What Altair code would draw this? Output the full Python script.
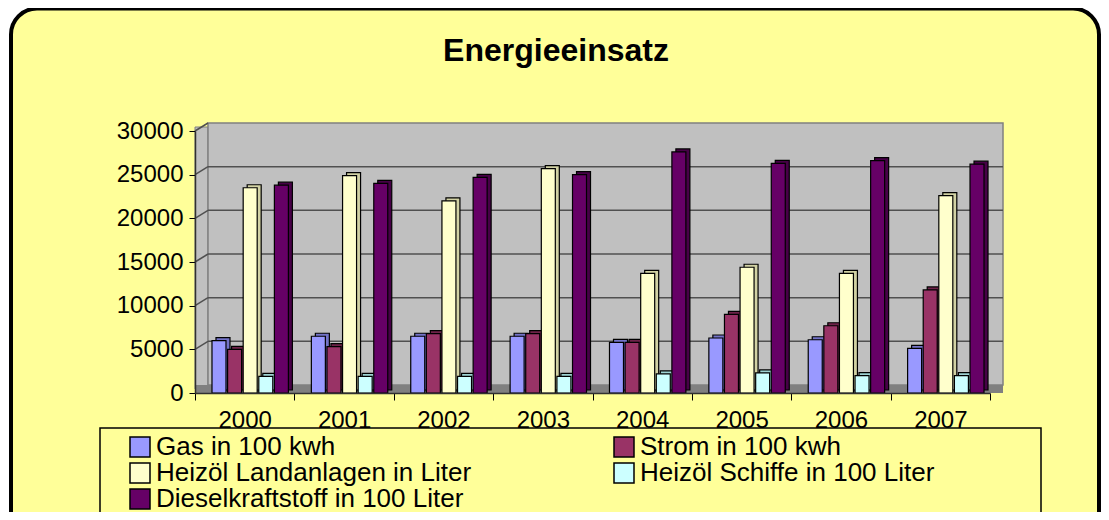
import altair as alt
import pandas as pd

YEARS = ["2000", "2001", "2002", "2003", "2004", "2005", "2006", "2007"]
SERIES = [
    "Gas in 100 kwh",
    "Strom in 100 kwh",
    "Heizöl Landanlagen in Liter",
    "Heizöl Schiffe in 100 Liter",
    "Dieselkraftstoff in 100 Liter",
]
GAS = [6000, 6500, 6500, 6500, 5800, 6300, 6100, 5100]
STROM = [5000, 5300, 6800, 6800, 5800, 9000, 7700, 11800]
HEIZOEL_LAND = [23500, 24900, 22000, 25700, 13700, 14400, 13700, 22600]
HEIZOEL_SCHIFFE = [1900, 1900, 1900, 1900, 2200, 2300, 2000, 2000]
DIESEL = [23800, 24000, 24700, 25000, 27600, 26300, 26600, 26200]
Y_TICKS = [0, 5000, 10000, 15000, 20000, 25000, 30000]
TITLE = "Energieeinsatz"

COLORS = ["#9999FF", "#993366", "#FFFFCC", "#CCFFFF", "#660066"]
COLORS_DARK = ["#7373C8", "#6E2249", "#D2D2A4", "#9ED2D2", "#470047"]

values = [GAS, STROM, HEIZOEL_LAND, HEIZOEL_SCHIFFE, DIESEL]
rows = []
for s, vals in zip(SERIES, values):
    for y, v in zip(YEARS, vals):
        rows.append({"Jahr": y, "Reihe": s, "Wert": v})
df = pd.DataFrame(rows)
ticks_df = pd.DataFrame({"t": Y_TICKS})
one = pd.DataFrame({"a": [0]})

W, H = 795, 262
FONT = "Liberation Sans"
BAR_W = 14
STEP = 15.6
FIRST = -25.7

yscale = alt.Scale(domain=[0, 30000], nice=False, zero=True)
xscale = alt.Scale(domain=YEARS, paddingInner=0, paddingOuter=0)

x_axis = alt.Axis(labelAngle=0, labelFontSize=24, labelFont=FONT, labelColor="black",
                  tickBand="extent", tickSize=7, tickColor="black", tickWidth=1,
                  domainColor="#303030", domainWidth=1.5, labelPadding=8, zindex=1)
y_axis = alt.Axis(values=Y_TICKS, labelFontSize=24, labelFont=FONT, labelColor="black",
                  tickSize=6, tickColor="black", tickWidth=1, domainColor="#303030",
                  domainWidth=1.5, labelPadding=6, grid=False, format="d", zindex=1)
legend = alt.Legend(orient="none", legendX=-68, legendY=303, title=None,
                    direction="horizontal", columns=2, columnPadding=139, rowPadding=0,
                    labelFontSize=26, labelFont=FONT, labelColor="black",
                    labelLimit=700, labelOffset=3, symbolType="square",
                    symbolSize=400, symbolStrokeColor="black",
                    symbolStrokeWidth=1.5, symbolOpacity=1, padding=0, zindex=1)

# decorations
outer = alt.Chart(one).mark_rect(
    fill="#FFFF99", stroke="black", strokeWidth=4, cornerRadius=26
).encode(x=alt.value(-184), x2=alt.value(904), y=alt.value(-122.5), y2=alt.value(420))

legend_box = alt.Chart(one).mark_rect(fill="#FFFF99", stroke="black", strokeWidth=1.5).encode(
    x=alt.value(-95), x2=alt.value(846), y=alt.value(297), y2=alt.value(420)
)

side_wall = alt.Chart(one).mark_rect(fill="#C0C0C0", stroke="#808080", strokeWidth=1).encode(
    x=alt.value(0), x2=alt.value(13), y=alt.value(-4), y2=alt.value(258)
)
back_wall = alt.Chart(one).mark_rect(fill="#C0C0C0", stroke="#808080", strokeWidth=1.5).encode(
    x=alt.value(13), x2=alt.value(808), y=alt.value(-8), y2=alt.value(254)
)
floor = alt.Chart(one).mark_rect(fill="#808080").encode(
    x=alt.value(0), x2=alt.value(808), y=alt.value(254), y2=alt.value(262)
)

grid = alt.Chart(ticks_df).transform_filter("datum.t > 0 && datum.t < 30000").mark_rule(
    color="#505050", strokeWidth=1.5, yOffset=-8
).encode(
    y=alt.Y("t:Q", scale=yscale, title=None, axis=y_axis),
    x=alt.value(13), x2=alt.value(808),
)
diag = alt.Chart(ticks_df).transform_filter("datum.t > 0").mark_rule(
    color="#505050", strokeWidth=1.5, y2Offset=-8
).encode(
    y=alt.Y("t:Q", scale=yscale, title=None, axis=y_axis),
    y2="t:Q",
    x=alt.value(0), x2=alt.value(13),
)

bar_layers = []
for i, s in enumerate(SERIES):
    off = FIRST + STEP * i
    base = alt.Chart(df).transform_filter(alt.datum.Reihe == s)
    side = base.mark_bar(
        stroke="black", strokeWidth=1.2, width=BAR_W, xOffset=off + 4,
        yOffset=-3, y2Offset=-3, fill=COLORS_DARK[i]
    ).encode(
        x=alt.X("Jahr:N", scale=xscale, sort=YEARS, title=None, axis=x_axis),
        y=alt.Y("Wert:Q", scale=yscale, title=None, axis=y_axis),
    )
    front = base.mark_bar(
        stroke="black", strokeWidth=1.2, width=BAR_W, xOffset=off
    ).encode(
        x=alt.X("Jahr:N", scale=xscale, sort=YEARS, title=None, axis=x_axis),
        y=alt.Y("Wert:Q", scale=yscale, title=None, axis=y_axis),
        color=alt.Color("Reihe:N", sort=SERIES,
                        scale=alt.Scale(domain=SERIES, range=COLORS), legend=legend),
    )
    bar_layers += [side, front]

title = alt.Chart(pd.DataFrame({"txt": [TITLE]})).mark_text(
    fontSize=32, fontWeight="bold", font=FONT, color="black", align="center", baseline="alphabetic"
).encode(text="txt:N", x=alt.value(361), y=alt.value(-70))

chart = alt.layer(
    outer, legend_box, side_wall, back_wall, floor, grid, diag, *bar_layers, title
).properties(
    width=W, height=H,
    autosize=alt.AutoSizeParams(type="none"),
    padding={"left": 187, "top": 123, "right": 111, "bottom": 119},
    background="white",
).configure_view(stroke=None)

chart.save("out.html", embed_options={"renderer": "svg", "actions": False})
